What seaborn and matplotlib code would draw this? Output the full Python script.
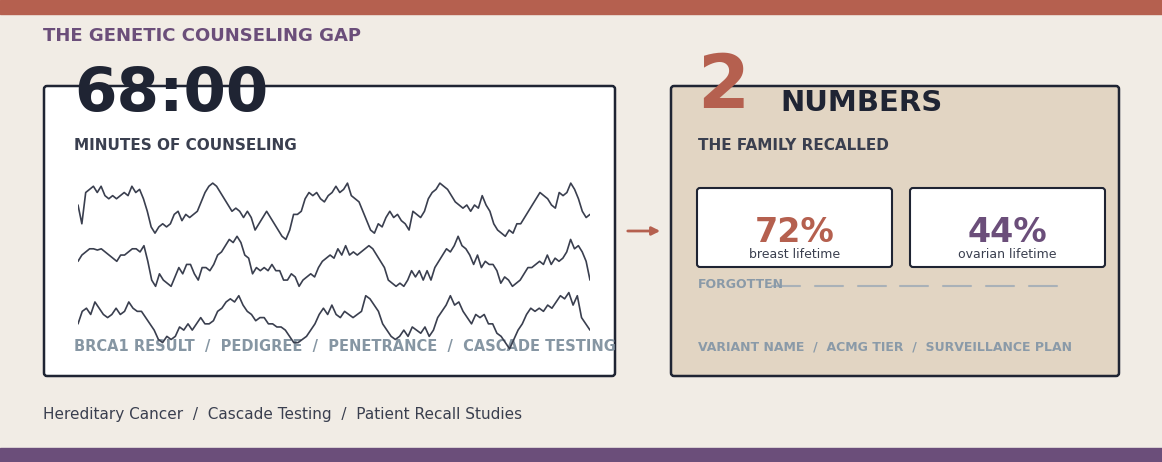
import numpy as np
import pandas as pd
import seaborn as sns
import matplotlib
matplotlib.use("Agg")
import matplotlib.pyplot as plt
from matplotlib.patches import FancyBboxPatch, Rectangle

sns.set_theme(style="white")
plt.rcParams['font.family'] = ['DejaVu Sans']

title = "THE GENETIC COUNSELING GAP"
big_left = "68:00"
left_sub = "MINUTES OF COUNSELING"
left_tags = ["BRCA1 RESULT", "PEDIGREE", "PENETRANCE", "CASCADE TESTING"]
big_right = "2"
right_word = "NUMBERS"
right_sub = "THE FAMILY RECALLED"
stat_values = ["72%", "44%"]
stat_labels = ["breast lifetime", "ovarian lifetime"]
right_tags = ["VARIANT NAME", "ACMG TIER", "SURVEILLANCE PLAN"]
footer = "Hereditary Cancer  /  Cascade Testing  /  Patient Recall Studies"

wave1 = [6,3,8,8.5,9,8,9,7.5,7,7.5,7,7.5,8,7.5,9,8,8.5,7,5,2.5,1.5,2.5,3,2.5,3,4.5,5,3.5,4.5,4,4.5,5,6.5,8,9,9.5,9,8,7,6,5,5.5,5,4,5,4,2,3,4,5,4,3,2,1,0.5,2,4.5,4.5,5,7,8,7.5,8,7,6.5,7.5,8,9,8,8.5,9.5,7.5,7,6.5,5,3.5,2,1.5,3,2.5,4,5,4,4.5,3.5,3,2,5,4.5,4,5,7,8,8.5,9.5,9,8.5,7.5,6.5,6,5.5,6,5,6,5.5,7.5,6,5,3,2,1.5,1,2,1.5,3,3,4,5,6,7,8,7.5,7,6,5.5,8,7.5,8,9.5,8.5,7,5,4,4.5]
wave2 = [5,6,6.5,7,7,6.8,7,6.5,6,5.5,5,6,6,6.5,7,7,6.5,7.5,5,2,1,3,2,1.5,1,2.5,4,3,4.5,4.5,3,2,4,4,3.5,4.5,6,6.5,7.5,8.5,8,9,8,6,5.5,3,4,3.5,4,3.5,4.5,3.5,3.5,2,2,3,2.5,1,2,2.5,3,2.5,4,5,5.5,6,5.5,7,6,7.5,6,6.5,6,6.5,7,7.5,7,6,5,4,2,1.5,1,1.5,1,2,3.5,2.5,3.5,2,3.5,2,4,5,6,7,6.5,7.5,9,7.5,7,6,4.5,6,4,5,4.5,4.5,3.5,1.5,2.5,2,1,1.5,2,3,4,4,4.5,5,4.5,6,4.5,5.5,5,5.5,6.5,8.5,7,7.5,6.5,5,2]
wave3 = [3,5,5.5,4.5,6.5,5.5,4.5,4,4.5,5.5,4.5,5,6.5,5.5,5,5,4,3,2,0.5,0,1,0.5,1,2.5,2,3,2,3,4,3,3,3.5,5,5.5,6.5,7,6.5,7.5,6,5,4.5,3.5,4,4,3,3,2.5,2.5,2,1,0,0,0.5,1,2,3,4.5,5.5,4.5,6,4.5,4,5,4.5,4,4.5,5,7.5,7,6,5,3,2,1,0.5,1,2,1,2.5,2,1.5,2.5,1,2,4,5,6,7.5,6,6.5,5,4,3,4.5,4,4.5,3,3,1.5,1,0,-1,0.5,2,3,4.5,5.5,5,5.5,5,6,5.5,6.5,7.5,7,8,6,7.5,4,3,2]
wave_offsets = [16, 8, 0]

W, H = 1162, 462
fig = plt.figure(figsize=(11.62, 4.62), dpi=100)
fig.patch.set_facecolor("#f1ece5")
ax = fig.add_axes([0, 0, 1, 1])
ax.set_xlim(0, W); ax.set_ylim(H, 0); ax.axis("off")

ax.add_patch(Rectangle((0, 0), W, 14, color="#b5604f"))
ax.add_patch(Rectangle((0, 448), W, 14, color="#6b4e7a"))

def card(x0, y0, x1, y1, fc, lw=1.8, r=3):
    ax.add_patch(FancyBboxPatch((x0, y0), x1 - x0, y1 - y0,
                 boxstyle=f"round,pad=0,rounding_size={r}", fc=fc, ec="#1f2433", lw=lw))

card(44, 86, 615, 376, "white")
card(671, 86, 1119, 376, "#e2d5c3")
card(697, 188, 892, 267, "white", lw=1.5)
card(910, 188, 1105, 267, "white", lw=1.5)

ax.text(43, 36, title, color="#6b4e7a", fontsize=13, fontweight="bold", va="center")
ax.text(74, 95, big_left, color="#1f2433", fontsize=44, fontweight="bold", va="center")
ax.text(74, 145, left_sub, color="#3a3f4f", fontsize=11, fontweight="bold", va="center")
ax.text(74, 347, "  /  ".join(left_tags), color="#8696a3", fontsize=10.5, fontweight="bold", va="center", zorder=5)

ax.text(697, 88, big_right, color="#b5604f", fontsize=54, fontweight="bold", va="center")
ax.text(780, 103, right_word, color="#1f2433", fontsize=21, fontweight="bold", va="center")
ax.text(698, 145, right_sub, color="#3a3f4f", fontsize=11, fontweight="bold", va="center")
for cx, v, l, c in zip([794.5, 1007.5], stat_values, stat_labels, ["#b5604f", "#6b4e7a"]):
    ax.text(cx, 232, v, color=c, fontsize=24, fontweight="bold", ha="center", va="center")
    ax.text(cx, 254, l, color="#3a3f4f", fontsize=9, ha="center", va="center")
ax.text(698, 285, "FORGOTTEN", color="#8a9aa8", fontsize=9, fontweight="bold", va="center")
for i in range(7):
    x0 = 772 + i * 42.8
    ax.plot([x0, x0 + 28], [286, 286], color="#a9b1b8", lw=1.5)
ax.text(698, 347, "  /  ".join(right_tags), color="#8a9aa8", fontsize=9, fontweight="bold", va="center")
ax.text(43, 415, footer, color="#3a3f4f", fontsize=11, va="center")
ax.annotate("", xy=(663, 231), xytext=(625, 231),
            arrowprops=dict(arrowstyle="-|>", color="#b5604f", lw=2, mutation_scale=12))

# waveforms
wax = fig.add_axes([78 / W, 1 - 352 / H, (590 - 78) / W, (352 - 180) / H])
wax.patch.set_alpha(0); wax.axis("off")
rows = []
for k, (w, off) in enumerate(zip([wave1, wave2, wave3], wave_offsets)):
    n = len(w)
    rows.append(pd.DataFrame({"x": np.linspace(0, 1, n), "y": np.array(w) + off, "line": k}))
df = pd.concat(rows)
sns.lineplot(data=df, x="x", y="y", units="line", estimator=None, color="#3a3f4f", lw=1.2, ax=wax)
wax.set_xlim(0, 1); wax.set_ylim(-1.5, 26)
wax.axis("off")

fig.savefig("out.png", dpi=100, facecolor=fig.get_facecolor())
